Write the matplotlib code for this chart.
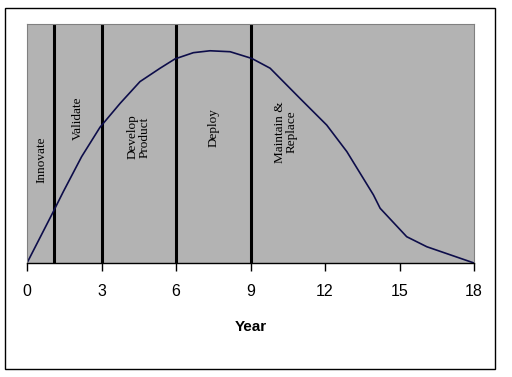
import matplotlib.pyplot as plt
import matplotlib.patches as patches

# curve (year, relative level)
years = [0, 1.06, 1.46, 2.20, 2.94, 3.75, 4.55, 5.36, 5.96, 6.70, 7.37, 8.18,
         9.05, 9.79, 10.99, 12.07, 12.88, 13.95, 14.22, 15.29, 16.10, 18]
level = [0, 21.5, 29.8, 44.5, 56.8, 66.8, 75.9, 81.5, 85.4, 88.0, 88.8, 88.4,
         85.6, 81.5, 68.9, 57.7, 46.6, 28.5, 22.9, 11.0, 6.8, 0]

# phase boundaries and labels
boundaries = [1.1, 3, 6, 9]
phase_names = ["Innovate", "Validate", "Develop\nProduct", "Deploy", "Maintain &\nReplace"]
phase_x = [0.58, 2.03, 4.51, 7.5, 10.43]
phase_y = [43.1, 60.4, 52.7, 56.5, 54.8]

xticks = [0, 3, 6, 9, 12, 15, 18]

fig = plt.figure(figsize=(5.12, 3.77), dpi=100)
ax = fig.add_axes([27 / 512, 114 / 377, 447 / 512, 239 / 377])
ax.set_facecolor("#b3b3b3")

# border round the whole chart
fig.patches.append(patches.Rectangle((5 / 512, 8 / 377), 490 / 512, 361 / 377,
                                     transform=fig.transFigure, fill=False,
                                     edgecolor="black", linewidth=1))

for b in boundaries:
    ax.axvline(b, color="black", linewidth=2.2)

ax.plot(years, level, color="#0d0d4a", linewidth=1.2)

for name, x, y in zip(phase_names, phase_x, phase_y):
    ax.text(x, y, name, rotation=90, ha="center", va="center",
            family="Liberation Serif", fontsize=9.5, linespacing=1.0)

ax.set_xlim(0, 18)
ax.set_ylim(0, 100)
ax.set_xticks(xticks)
ax.set_yticks([])
ax.tick_params(axis="x", direction="out", length=6, width=1, pad=9,
               labelsize=11.5)
for lab in ax.get_xticklabels():
    lab.set_family("Liberation Sans")
ax.set_xlabel("Year", family="Liberation Sans", fontweight="bold",
              fontsize=11, labelpad=15)

for side in ["top", "left", "right"]:
    ax.spines[side].set_color("#808080")
    ax.spines[side].set_linewidth(0.8)
ax.spines["bottom"].set_color("black")
ax.spines["bottom"].set_linewidth(1)

plt.savefig("out.png", dpi=100)
